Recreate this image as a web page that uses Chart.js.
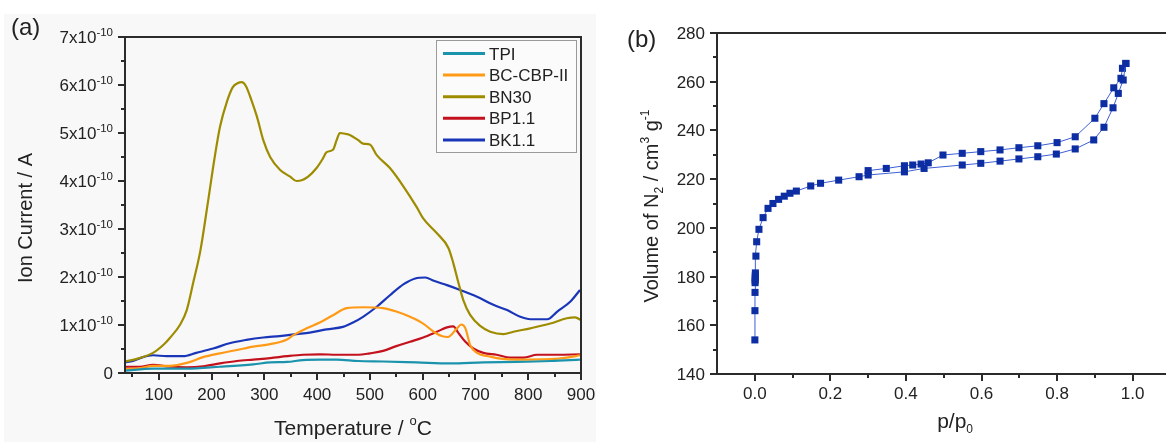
<!DOCTYPE html>
<html>
<head>
<meta charset="utf-8">
<title>Ion current and N2 isotherm</title>
<script src="https://cdn.jsdelivr.net/npm/chart.js@4/dist/chart.umd.min.js"></script>
<style>
  html, body { margin: 0; padding: 0; background: #fff; overflow: hidden; }
  #wrap { position: relative; width: 1166px; height: 442px; }
  #wrap canvas { position: absolute; top: 0; }
</style>
</head>
<body>
<div id="wrap">
  <canvas id="chartIon" width="600" height="442" style="left:0"></canvas>
  <canvas id="chartIso" width="566" height="442" style="left:600px"></canvas>
</div>
<script>
// ion current values are in units of 1e-10 A
const tpiT = [36, 89, 153, 216, 279, 311, 343, 373, 405, 437, 478, 525, 589, 652, 715, 779, 842, 898];
const tpiI = [0.05, 0.09, 0.09, 0.13, 0.18, 0.22, 0.23, 0.27, 0.28, 0.28, 0.25, 0.24, 0.22, 0.20, 0.22, 0.23, 0.25, 0.28];

const bcT = [36, 64, 89, 121, 153, 184, 216, 248, 279, 311, 343, 355, 380, 405, 431, 456, 487, 525, 550, 576, 601, 621, 636, 648, 665, 673, 681, 690, 703, 728, 747, 779, 842, 873, 898];
const bcI = [0.08, 0.10, 0.15, 0.15, 0.21, 0.33, 0.41, 0.48, 0.55, 0.60, 0.70, 0.79, 0.93, 1.05, 1.21, 1.35, 1.37, 1.35, 1.28, 1.17, 1.03, 0.86, 0.77, 0.75, 0.93, 1.01, 0.93, 0.58, 0.42, 0.34, 0.30, 0.28, 0.29, 0.32, 0.37];

const bnT = [36, 60, 89, 110, 121, 140, 153, 165, 179, 193, 206, 216, 229, 240, 250, 257, 265, 275, 286, 298, 311, 330, 349, 361, 372, 383, 399, 410, 418, 430, 437, 443, 455, 462, 478, 487, 500, 513, 538, 564, 589, 601, 627, 649, 658, 668, 677, 690, 709, 728, 753, 772, 804, 842, 873, 889, 900];
const bnI = [0.24, 0.30, 0.42, 0.60, 0.73, 1.00, 1.31, 1.87, 2.56, 3.55, 4.50, 5.13, 5.65, 5.95, 6.04, 6.06, 5.98, 5.70, 5.34, 4.85, 4.50, 4.23, 4.09, 4.00, 4.02, 4.09, 4.27, 4.45, 4.60, 4.65, 4.85, 5.00, 4.98, 4.96, 4.85, 4.78, 4.76, 4.54, 4.27, 3.88, 3.45, 3.22, 2.91, 2.60, 2.29, 1.87, 1.52, 1.21, 0.98, 0.86, 0.81, 0.86, 0.93, 1.03, 1.14, 1.16, 1.10];

const bpT = [36, 64, 89, 121, 153, 184, 216, 248, 279, 311, 343, 373, 405, 437, 478, 500, 525, 550, 576, 601, 627, 646, 658, 668, 681, 696, 715, 740, 766, 791, 817, 855, 898];
const bpI = [0.13, 0.13, 0.17, 0.13, 0.12, 0.14, 0.20, 0.25, 0.28, 0.31, 0.35, 0.38, 0.39, 0.38, 0.38, 0.41, 0.46, 0.56, 0.65, 0.74, 0.86, 0.95, 0.97, 0.83, 0.65, 0.51, 0.42, 0.38, 0.32, 0.32, 0.38, 0.38, 0.39];

const bkT = [36, 51, 70, 89, 115, 146, 171, 203, 234, 266, 298, 329, 361, 386, 418, 449, 468, 487, 513, 538, 564, 586, 605, 621, 646, 671, 703, 734, 760, 785, 804, 836, 855, 880, 898];
const bkI = [0.22, 0.25, 0.33, 0.37, 0.35, 0.35, 0.42, 0.51, 0.62, 0.69, 0.74, 0.77, 0.81, 0.84, 0.91, 0.96, 1.05, 1.17, 1.38, 1.62, 1.85, 1.97, 1.99, 1.92, 1.83, 1.73, 1.59, 1.42, 1.31, 1.17, 1.12, 1.12, 1.28, 1.49, 1.73];

const sampleNames = ['TPI', 'BC-CBP-II', 'BN30', 'BP1.1', 'BK1.1'];
const tempTicks = [100, 200, 300, 400, 500, 600, 700, 800, 900];
const ionTicks = [0, 1, 2, 3, 4, 5, 6, 7];

// N2 isotherm, p/p0 and volume (cm3/g)
const adsP = [0.0002, 0.0004, 0.0006, 0.0008, 0.0010, 0.0012, 0.0014, 0.0016, 0.003, 0.005, 0.011, 0.022, 0.035, 0.048, 0.063, 0.078, 0.093, 0.110, 0.148, 0.174, 0.222, 0.276, 0.300, 0.396, 0.448, 0.549, 0.598, 0.649, 0.699, 0.749, 0.798, 0.848, 0.897, 0.924, 0.948, 0.962, 0.975, 0.982];
const adsV = [154.0, 166.0, 173.5, 177.5, 178.5, 179.5, 180.5, 181.5, 188.4, 194.3, 199.4, 204.2, 208.0, 210.0, 211.7, 213.0, 214.2, 215.1, 217.2, 218.3, 219.6, 221.0, 221.7, 223.0, 224.4, 225.8, 226.5, 227.4, 228.3, 229.2, 230.3, 232.4, 236.1, 241.3, 249.3, 255.2, 260.7, 267.5];
const desP = [0.982, 0.973, 0.969, 0.950, 0.924, 0.900, 0.848, 0.800, 0.749, 0.699, 0.649, 0.598, 0.549, 0.498, 0.459, 0.440, 0.418, 0.396, 0.348, 0.300];
const desV = [267.5, 265.5, 261.4, 257.5, 251.0, 245.0, 237.4, 235.0, 233.7, 232.9, 232.0, 231.3, 230.6, 229.9, 226.7, 226.2, 225.8, 225.5, 224.4, 223.5];
const pTicks = [0, 0.2, 0.4, 0.6, 0.8, 1.0];
const volTicks = [140, 160, 180, 200, 220, 240, 260, 280];

const FONT = '"Liberation Sans", Arial, sans-serif';
const INK = '#222';
const AXIS = '#2b2b2b';

function pairs(xs, ys) {
    return xs.map((x, i) => ({ x: x, y: ys[i] }));
}

// draws a run of text pieces (super/subscripts), each {t, size, dy}
function drawParts(ctx, parts, x, y, align) {
    let total = 0;
    parts.forEach(p => {
        ctx.font = p.size + 'px ' + FONT;
        p.w = ctx.measureText(p.t).width;
        total += p.w;
    });
    let cx = x;
    if (align === 'right') cx = x - total;
    if (align === 'center') cx = x - total / 2;
    ctx.textAlign = 'left';
    ctx.textBaseline = 'alphabetic';
    parts.forEach(p => {
        ctx.font = p.size + 'px ' + FONT;
        ctx.fillText(p.t, cx, y + (p.dy || 0));
        cx += p.w;
    });
}

function tick(ctx, x1, y1, x2, y2) {
    ctx.beginPath();
    ctx.moveTo(x1, y1);
    ctx.lineTo(x2, y2);
    ctx.stroke();
}

const ionFrame = {
    id: 'ionFrame',
    beforeDraw(chart) {
        const ctx = chart.ctx;
        ctx.save();
        ctx.fillStyle = '#f8f8f8';
        ctx.fillRect(4, 14, 592, 428);
        ctx.restore();
    },
    afterDraw(chart) {
        const ctx = chart.ctx;
        const a = chart.chartArea;
        const xs = chart.scales.x, ys = chart.scales.y;
        ctx.save();
        ctx.strokeStyle = AXIS;
        ctx.lineWidth = 2;
        ctx.strokeRect(a.left, a.top, a.right - a.left, a.bottom - a.top);

        // y ticks, minor at half steps
        for (let v = 0; v <= 7; v += 0.5) {
            const py = Math.round(ys.getPixelForValue(v));
            tick(ctx, a.left, py, a.left - (v % 1 === 0 ? 7 : 4), py);
        }
        // x ticks, minor every 50
        for (let t = 50; t <= 900; t += 50) {
            const px = Math.round(xs.getPixelForValue(t));
            tick(ctx, px, a.bottom, px, a.bottom + (t % 100 === 0 ? 7 : 4));
        }

        ctx.fillStyle = INK;
        ionTicks.forEach(v => {
            const py = ys.getPixelForValue(v);
            if (v === 0) {
                drawParts(ctx, [{ t: '0', size: 17 }], a.left - 12, py + 6, 'right');
            } else {
                drawParts(ctx, [{ t: v + 'x10', size: 17 }, { t: '-10', size: 11.5, dy: -7 }], a.left - 12, py + 6, 'right');
            }
        });
        tempTicks.forEach(t => {
            drawParts(ctx, [{ t: String(t), size: 17 }], xs.getPixelForValue(t), a.bottom + 27, 'center');
        });

        // axis titles
        drawParts(ctx, [{ t: 'Temperature / ', size: 21 }, { t: 'o', size: 13, dy: -10 }, { t: 'C', size: 21 }], (a.left + a.right) / 2, 435, 'center');
        ctx.save();
        ctx.translate(32, 218);
        ctx.rotate(-Math.PI / 2);
        drawParts(ctx, [{ t: 'Ion Current / A', size: 20 }], 0, 0, 'center');
        ctx.restore();
        drawParts(ctx, [{ t: '(a)', size: 24 }], 11, 35, 'left');

        // legend box
        ctx.fillStyle = '#fbfbfb';
        ctx.fillRect(436.5, 40.5, 140, 112);
        ctx.strokeStyle = '#9a9a9a';
        ctx.lineWidth = 1;
        ctx.strokeRect(436.5, 40.5, 140, 112);
        chart.data.datasets.forEach((ds, i) => {
            const ry = 53.5 + i * 21.6;
            ctx.strokeStyle = ds.borderColor;
            ctx.lineWidth = 3;
            tick(ctx, 443, ry, 485, ry);
            ctx.fillStyle = INK;
            drawParts(ctx, [{ t: ds.label, size: 17 }], 489, ry + 6, 'left');
        });
        ctx.restore();
    }
};

const isoFrame = {
    id: 'isoFrame',
    afterDraw(chart) {
        const ctx = chart.ctx;
        const a = chart.chartArea;
        const xs = chart.scales.x, ys = chart.scales.y;
        ctx.save();
        ctx.strokeStyle = AXIS;
        ctx.lineWidth = 2;
        tick(ctx, a.left, a.top, chart.width, a.top);
        tick(ctx, a.left, a.top - 1, a.left, a.bottom + 1);
        tick(ctx, a.left, a.bottom, chart.width, a.bottom);

        for (let v = 140; v <= 280; v += 10) {
            const py = Math.round(ys.getPixelForValue(v));
            tick(ctx, a.left, py, a.left - (v % 20 === 0 ? 7 : 4), py);
        }
        for (let k = 0; k <= 10; k++) {
            const px = Math.round(xs.getPixelForValue(k / 10));
            tick(ctx, px, a.bottom, px, a.bottom + (k % 2 === 0 ? 7 : 4));
        }

        ctx.fillStyle = INK;
        volTicks.forEach(v => {
            drawParts(ctx, [{ t: String(v), size: 17 }], a.left - 12, ys.getPixelForValue(v) + 6, 'right');
        });
        pTicks.forEach(p => {
            drawParts(ctx, [{ t: p.toFixed(1), size: 17 }], xs.getPixelForValue(p), a.bottom + 25, 'center');
        });

        drawParts(ctx, [{ t: 'p/p', size: 21 }, { t: '0', size: 12, dy: 5 }], xs.getPixelForValue(0.53), 428, 'center');
        ctx.save();
        ctx.translate(58, 206);
        ctx.rotate(-Math.PI / 2);
        drawParts(ctx, [
            { t: 'Volume of N', size: 20 }, { t: '2', size: 12, dy: 5 },
            { t: ' / cm', size: 20 }, { t: '3', size: 12, dy: -9 },
            { t: ' g', size: 20 }, { t: '-1', size: 12, dy: -9 }
        ], 0, 0, 'center');
        ctx.restore();
        drawParts(ctx, [{ t: '(b)', size: 24 }], 27, 47, 'left');
        ctx.restore();
    }
};

Chart.defaults.font.family = FONT;

const lineColors = ['#1c93ad', '#ff9a17', '#9e8c00', '#c3121d', '#1a36b8'];
const seriesData = [pairs(tpiT, tpiI), pairs(bcT, bcI), pairs(bnT, bnI), pairs(bpT, bpI), pairs(bkT, bkI)];

new Chart(document.getElementById('chartIon'), {
    type: 'line',
    data: {
        datasets: sampleNames.map((name, i) => ({
            label: name,
            data: seriesData[i],
            borderColor: lineColors[i],
            borderWidth: 2.2,
            pointRadius: 0,
            cubicInterpolationMode: 'monotone'
        }))
    },
    options: {
        responsive: false,
        devicePixelRatio: 1,
        animation: false,
        layout: { padding: { left: 125, top: 37, right: 19, bottom: 69 } },
        scales: {
            x: { type: 'linear', min: 36, max: 900, display: false },
            y: { type: 'linear', min: 0, max: 7, display: false }
        },
        plugins: { legend: { display: false }, tooltip: { enabled: false } }
    },
    plugins: [ionFrame]
});

new Chart(document.getElementById('chartIso'), {
    type: 'scatter',
    data: {
        datasets: [
            { label: 'adsorption', data: pairs(adsP, adsV) },
            { label: 'desorption', data: pairs(desP, desV) }
        ].map(ds => Object.assign(ds, {
            showLine: true,
            borderColor: '#3d5fd4',
            borderWidth: 1,
            pointStyle: 'rect',
            pointRadius: 5,
            pointBackgroundColor: '#0d2ea3',
            pointBorderColor: '#0d2ea3',
            pointBorderWidth: 0
        }))
    },
    options: {
        responsive: false,
        devicePixelRatio: 1,
        animation: false,
        layout: { padding: { left: 117, top: 33, right: 0, bottom: 68 } },
        scales: {
            x: { type: 'linear', min: -0.1, max: 1.075, display: false },
            y: { type: 'linear', min: 140, max: 280, display: false }
        },
        plugins: { legend: { display: false }, tooltip: { enabled: false } }
    },
    plugins: [isoFrame]
});
</script>
</body>
</html>
